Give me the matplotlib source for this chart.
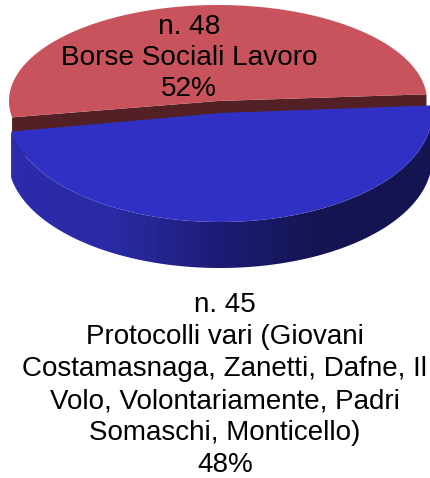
#!/usr/bin/env python3
import numpy as np
import matplotlib
matplotlib.use('Agg')
import matplotlib.pyplot as plt
from matplotlib.colors import LinearSegmentedColormap
from matplotlib.patches import Polygon

plt.rcParams['font.family'] = ['Liberation Sans', 'DejaVu Sans']

counts = [48, 45]
percents = ['52%', '48%']
names = ['Borse Sociali Lavoro',
         'Protocolli vari (Giovani\nCostamasnaga, Zanetti, Dafne, Il\nVolo, Volontariamente, Padri\nSomaschi, Monticello)']
RED_TOP = '#c9535c'; RED_CUT = '#532025'
BLUE_TOP = '#3030c4'
blue_side = LinearSegmentedColormap.from_list('side', ['#2c2cac', '#2a2aa4', '#1c1c74', '#141450', '#141450'])

W, H = 431, 478
fig = plt.figure(figsize=(W / 100, H / 100), dpi=100, facecolor='white')
ax = fig.add_axes([0, 0, 1, 1])

# ellissi dei due spicchi in pixel
START = 4.0
RED_C, RED_A, RED_B = (218, 101), 209, 96
BLUE_C, BLUE_A, BLUE_B = (220, 113), 212, 109
DEPTH = 46

def arc(c, a, b, t0, t1, n=300):
    t = np.radians(np.linspace(t0, t1, n))
    return c[0] + a * np.cos(t), c[1] - b * np.sin(t)

span = np.array(counts) / sum(counts) * 360
r0, r1 = START, START + span[0]
b0, b1 = r1, r1 + span[1]

# fetta rossa: taglio e faccia superiore
x, y = arc(RED_C, RED_A, RED_B, r0, r1)
left = (x[-1], y[-1]); right = (x[0], y[0])
cut = [left, RED_C, right, (right[0], right[1] + 40),
       (RED_C[0], RED_C[1] + 40), (left[0], left[1] + 40)]
ax.add_patch(Polygon(cut, closed=True, fc=RED_CUT, ec='none', zorder=1))
ax.add_patch(Polygon(np.c_[np.r_[RED_C[0], x], np.r_[RED_C[1], y]], closed=True, fc=RED_TOP, ec='none', zorder=2))

# fetta blu: parete sfumata e faccia superiore
x, y = arc(BLUE_C, BLUE_A, BLUE_B, b0, b1)
wall = Polygon(np.c_[np.r_[x, x[::-1]], np.r_[y, y[::-1] + DEPTH]], closed=True, fc='none', ec='none', zorder=3)
ax.add_patch(wall)
grad = ax.imshow(np.linspace(0, 1, 256)[None, :], cmap=blue_side, aspect='auto',
                 extent=(x.min(), x.max(), y.max() + DEPTH, y.min()), zorder=3)
grad.set_clip_path(wall)
ax.add_patch(Polygon(np.c_[np.r_[BLUE_C[0], x], np.r_[BLUE_C[1], y]], closed=True, fc=BLUE_TOP, ec='none', zorder=4))

ax.text(189, 58, f'n. {counts[0]}\n{names[0]}\n{percents[0]}', ha='center', va='center',
        fontsize=20.2, color='black', linespacing=1.24, zorder=5)

# etichetta blu riga per riga, cosi' resta dentro la figura
lines = f'n. {counts[1]}\n{names[1]}\n{percents[1]}'.split('\n')
for i, line in enumerate(lines):
    ax.text(225, 305 + i * 32, line, ha='center', va='center', fontsize=20, color='black', zorder=5)

ax.set_xlim(0, W); ax.set_ylim(H, 0); ax.axis('off')
fig.savefig('out.png', dpi=100, facecolor='white')
